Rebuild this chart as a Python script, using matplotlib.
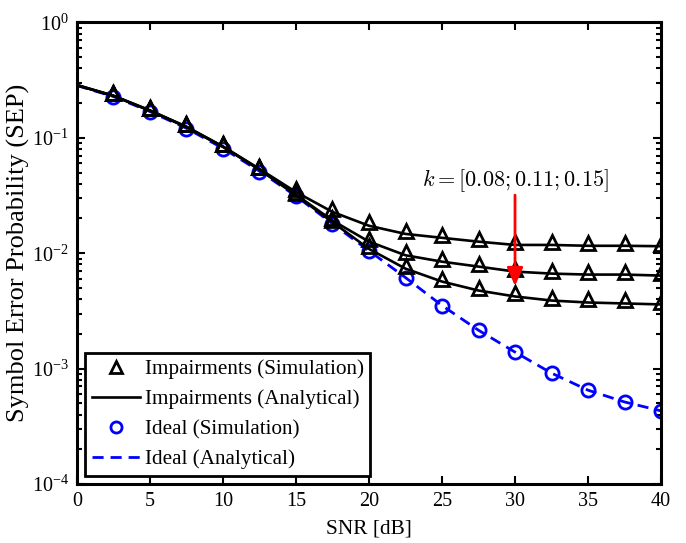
import numpy as np
import matplotlib
matplotlib.use("Agg")
import matplotlib.pyplot as plt
from matplotlib.ticker import LogLocator, NullFormatter, FixedLocator

plt.rcParams['font.family'] = ['Liberation Serif', 'DejaVu Serif']
plt.rcParams['mathtext.fontset'] = 'custom'
plt.rcParams['mathtext.rm'] = 'Liberation Serif'
plt.rcParams['mathtext.it'] = 'Liberation Serif:italic'

# SNR grid (dB)
snr = [0, 2.5, 5, 7.5, 10, 12.5, 15, 17.5, 20, 22.5, 25, 27.5, 30, 32.5, 35, 37.5, 40]
snr_sim = snr[1:]

# ideal hardware
ideal_ana = [0.284, 0.228, 0.169, 0.121, 0.0811, 0.0514, 0.0313, 0.0180, 0.0105,
             0.00615, 0.00352, 0.00215, 0.00139, 0.000914, 0.00065, 0.000514, 0.00043]
ideal_sim = [0.226, 0.168, 0.120, 0.0805, 0.0510, 0.0312, 0.0179, 0.0105,
             0.00612, 0.00352, 0.00216, 0.00139, 0.000915, 0.00065, 0.000515, 0.00043]

# impairments, k = 0.08, 0.11, 0.15
imp_ana = {
    0.08: [0.286, 0.231, 0.172, 0.124, 0.0835, 0.0530, 0.0318, 0.0186, 0.0109,
           0.00735, 0.00568, 0.00475, 0.00422, 0.00389, 0.00374, 0.00367, 0.00360],
    0.11: [0.286, 0.231, 0.172, 0.124, 0.0838, 0.0533, 0.0322, 0.0192, 0.0126,
           0.0096, 0.00845, 0.00766, 0.00693, 0.00666, 0.00653, 0.00653, 0.00640],
    0.15: [0.287, 0.232, 0.173, 0.125, 0.0842, 0.0538, 0.0339, 0.0228, 0.0173,
           0.0147, 0.0136, 0.0126, 0.0118, 0.0118, 0.0116, 0.0116, 0.0115],
}
imp_sim = {
    0.08: [0.245, 0.182, 0.132, 0.088, 0.0555, 0.0335, 0.0195, 0.0115,
           0.0078, 0.0060, 0.0050, 0.0045, 0.0041, 0.0040, 0.0039, 0.0038],
    0.11: [0.245, 0.182, 0.132, 0.088, 0.0555, 0.0340, 0.0203, 0.0133,
           0.0102, 0.0089, 0.0081, 0.0073, 0.0070, 0.0069, 0.0069, 0.0068],
    0.15: [0.247, 0.183, 0.133, 0.088, 0.0557, 0.0360, 0.0242, 0.0187,
           0.0156, 0.0144, 0.0133, 0.0125, 0.0124, 0.0122, 0.0122, 0.0121],
}

# arrow for k annotation
arrow_x = 30
arrow_from = 0.0319
arrow_to = 0.0052
label_y = 0.043

fig = plt.figure(figsize=(6.86, 5.43), dpi=100)
ax = fig.add_axes([0.1122, 0.1087, 0.8514, 0.8499])

ax.semilogy(snr, ideal_ana, '--', color='blue', lw=2.0, dashes=(4, 2.5))
ax.semilogy(snr_sim, ideal_sim, 'o', color='blue', mfc='none', ms=9.5, mew=2.0)
for k in [0.08, 0.11, 0.15]:
    ax.semilogy(snr, imp_ana[k], '-', color='black', lw=1.9)
    ax.semilogy(snr_sim, imp_sim[k], '^', color='black', mfc='none', ms=10.5, mew=2.0)

ax.annotate('', xy=(arrow_x, arrow_to), xytext=(arrow_x, arrow_from), zorder=5,
            arrowprops=dict(arrowstyle='-|>,head_length=0.5,head_width=0.22',
                            color='red', lw=2.0, mutation_scale=22,
                            shrinkA=0, shrinkB=0))
ax.text(arrow_x, label_y, r'$k = [0.08; 0.11; 0.15]$', ha='center', va='center',
        fontsize=16, math_fontfamily='cm')

ax.set_xlim(0, 40)
ax.set_ylim(1e-4, 1)
ax.xaxis.set_major_locator(FixedLocator([0, 5, 10, 15, 20, 25, 30, 35, 40]))
ax.yaxis.set_major_locator(LogLocator(base=10, numticks=10))
ax.yaxis.set_minor_locator(LogLocator(base=10, subs=np.arange(2, 10), numticks=10))
ax.yaxis.set_minor_formatter(NullFormatter())

ax.tick_params(which='both', direction='in', top=True, right=True, labelsize=14.5, width=1.5)
ax.tick_params(which='major', length=6, pad=6)
ax.tick_params(which='minor', length=3.5)
for s in ax.spines.values():
    s.set_linewidth(2.2)

ax.set_xlabel('SNR [dB]', fontsize=15.3, labelpad=6)
ax.set_ylabel('Symbol Error Probability (SEP)', fontsize=19, labelpad=1)

h1, = ax.plot([], [], '^', color='black', mfc='none', ms=9, mew=2.0)
h2, = ax.plot([], [], '-', color='black', lw=1.9)
h3, = ax.plot([], [], 'o', color='blue', mfc='none', ms=8, mew=2.0)
h4, = ax.plot([], [], '--', color='blue', lw=2.0, dashes=(4, 2.5))
leg = ax.legend([h1, h2, h3, h4],
                ['Impairments (Simulation)', 'Impairments (Analytical)',
                 'Ideal (Simulation)', 'Ideal (Analytical)'],
                loc='lower left', fontsize=15.2, fancybox=False, framealpha=1,
                edgecolor='black', borderaxespad=0.4, handlelength=2.3,
                labelspacing=0.48, borderpad=0.3, handletextpad=0.2)
leg.get_frame().set_linewidth(2.0)

fig.savefig('out.png', dpi=100)
